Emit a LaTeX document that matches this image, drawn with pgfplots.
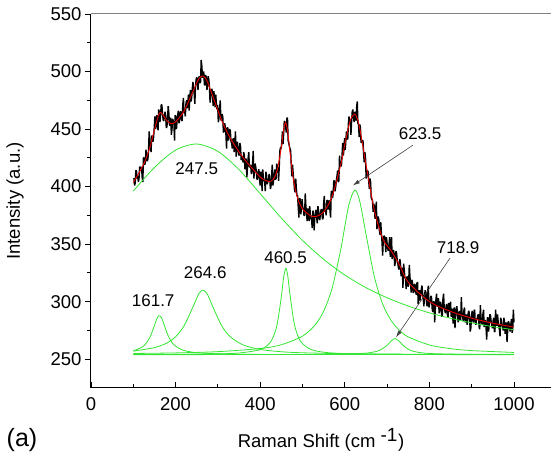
\documentclass[border=0pt]{standalone}
\usepackage{pgfplots}
\pgfplotsset{compat=1.18}
\usetikzlibrary{arrows.meta}
\usepackage{fontspec}
\setmainfont{Liberation Sans}
\definecolor{gline}{RGB}{50,230,50}
\definecolor{rline}{RGB}{235,0,0}
\definecolor{topgray}{RGB}{130,130,130}
\begin{document}
\begin{tikzpicture}
\useasboundingbox (-91pt,-80pt) rectangle (460pt,388pt);
\begin{axis}[
  at={(0,0)}, anchor=south west,
  scale only axis, width=460pt, height=374pt,
  xmin=0, xmax=1087.5, ymin=225, ymax=550,
  axis x line*=bottom, axis y line*=left,
  axis line style={line width=1pt,-},
  xtick={0,200,400,600,800,1000}, minor x tick num=1,
  ytick={250,300,350,400,450,500,550}, minor y tick num=1,
  xtick align=inside, ytick align=outside,
  major tick length=6pt, minor tick length=4pt,
  every tick/.style={black, line width=0.9pt},
  /pgf/number format/assume math mode=true,
  /pgf/number format/1000 sep={},
  scaled ticks=false,
  tick label style={font=\fontsize{18.5}{20}\selectfont},
  xticklabel style={yshift=-6pt},
  label style={font=\fontsize{18.5}{20}\selectfont},
  xlabel={Raman Shift (cm \textsuperscript{\fontsize{19}{20}\selectfont -1})},
  ylabel={Intensity (a.u.)},
  xlabel style={at={(axis description cs:0.5,-0.139)}, anchor=center},
  ylabel style={at={(axis description cs:-0.165,0.5)}, anchor=center},
  clip=false,
]
% raw spectrum
\addplot[black, line width=1.4pt, line join=bevel] coordinates {
(100,407)(101.5,407)(103,401)(104.5,403)(106,414)(107.5,414)(109,407)(110.5,409)(112,404)(113.5,407)(115,417)(116.5,417)(118,416)(119.5,417)(121,408)(122.5,404)(124,425)(125.5,425)(127,419)(128.5,421)(130,432)(131.5,427)(133,422)(134.5,424)(136,431)(137.5,448)(139,439)(140.5,435)(142,430)(143.5,444)(145,444)(146.5,439)(148,443)(149.5,451)(151,461)(152.5,450)(154,454)(155.5,462)(157,453)(158.5,449)(160,467)(161.5,465)(163,456)(164.5,462)(166,471)(167.5,471)(169,464)(170.5,458)(172,457)(173.5,461)(175,465)(176.5,462)(178,451)(179.5,452)(181,459)(182.5,470)(184,464)(185.5,454)(187,453)(188.5,460)(190,445)(191.5,450)(193,459)(194.5,457)(196,455)(197.5,440)(199,462)(200.5,461)
(202,450)(203.5,457)(205,462)(206.5,466)(208,455)(209.5,458)(211,465)(212.5,465)(214,458)(215.5,457)(217,471)(218.5,477)(220,464)(221.5,465)(223,461)(224.5,472)(226,475)(227.5,468)(229,474)(230.5,480)(232,466)(233.5,476)(235,484)(236.5,474)(238,477)(239.5,485)(241,491)(242.5,485)(244,480)(245.5,472)(247,487)(248.5,493)(250,495)(251.5,489)(253,484)(254.5,494)(256,496)(257.5,490)(259,491)(260.5,510)(262,505)(263.5,495)(265,495)(266.5,500)(268,489)(269.5,488)(271,497)(272.5,495)(274,484)(275.5,488)(277,496)(278.5,493)(280,487)(281.5,473)(283,479)(284.5,483)(286,485)(287.5,477)(289,470)(290.5,483)(292,476)(293.5,469)(295,480)(296.5,471)(298,467)(299.5,471)
(301,456)(302.5,459)(304,467)(305.5,475)(307,459)(308.5,457)(310,463)(311.5,461)(313,447)(314.5,448)(316,455)(317.5,452)(319,445)(320.5,433)(322,451)(323.5,451)(325,440)(326.5,443)(328,450)(329.5,448)(331,439)(332.5,438)(334,433)(335.5,441)(337,442)(338.5,430)(340,437)(341.5,448)(343,426)(344.5,432)(346,439)(347.5,434)(349,428)(350.5,427)(352,438)(353.5,435)(355,423)(356.5,426)(358,426)(359.5,421)(361,430)(362.5,427)(364,415)(365.5,424)(367,424)(368.5,408)(370,417)(371.5,425)(373,430)(374.5,417)(376,417)(377.5,419)(379,411)(380.5,412)(382,420)(383.5,431)(385,407)(386.5,413)(388,420)(389.5,417)(391,413)(392.5,406)(394,407)(395.5,413)(397,415)(398.5,406)
(400,401)(401.5,413)(403,410)(404.5,396)(406,415)(407.5,408)(409,405)(410.5,405)(412,396)(413.5,413)(415,410)(416.5,402)(418,404)(419.5,405)(421,411)(422.5,408)(424,398)(425.5,400)(427,409)(428.5,419)(430,401)(431.5,405)(433,411)(434.5,415)(436,406)(437.5,407)(439,420)(440.5,417)(442,416)(443.5,405)(445,417)(446.5,431)(448,434)(449.5,433)(451,438)(452.5,448)(454,437)(455.5,446)(457,457)(458.5,456)(460,453)(461.5,447)(463,459)(464.5,460)(466,440)(467.5,438)(469,435)(470.5,433)(472,431)(473.5,418)(475,409)(476.5,419)(478,411)(479.5,405)(481,398)(482.5,395)(484,407)(485.5,398)(487,392)(488.5,392)(490,382)(491.5,373)(493,390)(494.5,389)(496,376)(497.5,381)(499,389)(500.5,382)
(502,381)(503.5,375)(505,375)(506.5,394)(508,383)(509.5,377)(511,370)(512.5,381)(514,378)(515.5,370)(517,383)(518.5,377)(520,372)(521.5,371)(523,364)(524.5,379)(526,378)(527.5,362)(529,373)(530.5,375)(532,380)(533.5,373)(535,368)(536.5,383)(538,379)(539.5,372)(541,371)(542.5,377)(544,380)(545.5,380)(547,372)(548.5,372)(550,385)(551.5,392)(553,378)(554.5,379)(556,375)(557.5,388)(559,388)(560.5,380)(562,387)(563.5,388)(565,379)(566.5,373)(568,396)(569.5,396)(571,390)(572.5,394)(574,405)(575.5,405)(577,396)(578.5,400)(580,405)(581.5,409)(583,414)(584.5,404)(586,405)(587.5,427)(589,419)(590.5,418)(592,418)(593.5,427)(595,438)(596.5,427)(598,432)(599.5,442)
(601,432)(602.5,440)(604,448)(605.5,442)(607,441)(608.5,455)(610,461)(611.5,457)(613,458)(614.5,445)(616,456)(617.5,465)(619,467)(620.5,461)(622,456)(623.5,464)(625,465)(626.5,457)(628,469)(629.5,474)(631,455)(632.5,454)(634,443)(635.5,454)(637,451)(638.5,438)(640,440)(641.5,440)(643,440)(644.5,428)(646,421)(647.5,430)(649,425)(650.5,407)(652,411)(653.5,414)(655,413)(656.5,405)(658,398)(659.5,407)(661,404)(662.5,390)(664,389)(665.5,388)(667,378)(668.5,385)(670,383)(671.5,372)(673,377)(674.5,387)(676,363)(677.5,368)(679,374)(680.5,371)(682,361)(683.5,358)(685,369)(686.5,360)(688,352)(689.5,340)(691,354)(692.5,357)(694,357)(695.5,351)(697,343)(698.5,356)
(700,351)(701.5,346)(703,344)(704.5,349)(706,356)(707.5,339)(709,344)(710.5,356)(712,337)(713.5,340)(715,345)(716.5,342)(718,331)(719.5,334)(721,344)(722.5,342)(724,336)(725.5,333)(727,329)(728.5,328)(730,337)(731.5,334)(733,322)(734.5,329)(736,329)(737.5,312)(739,333)(740.5,328)(742,321)(743.5,320)(745,311)(746.5,321)(748,322)(749.5,313)(751,316)(752.5,332)(754,322)(755.5,315)(757,308)(758.5,319)(760,317)(761.5,308)(763,308)(764.5,315)(766,315)(767.5,309)(769,306)(770.5,316)(772,317)(773.5,298)(775,307)(776.5,310)(778,301)(779.5,306)(781,311)(782.5,314)(784,307)(785.5,302)(787,296)(788.5,305)(790,310)(791.5,307)(793,300)(794.5,296)(796,309)(797.5,314)(799,295)(800.5,298)
(802,300)(803.5,305)(805,304)(806.5,294)(808,291)(809.5,300)(811,300)(812.5,282)(814,294)(815.5,302)(817,307)(818.5,296)(820,296)(821.5,303)(823,290)(824.5,293)(826,300)(827.5,298)(829,287)(830.5,288)(832,302)(833.5,307)(835,295)(836.5,292)(838,290)(839.5,296)(841,298)(842.5,289)(844,286)(845.5,299)(847,294)(848.5,291)(850,300)(851.5,287)(853,289)(854.5,294)(856,281)(857.5,292)(859,295)(860.5,277)(862,289)(863.5,294)(865,296)(866.5,288)(868,282)(869.5,290)(871,292)(872.5,284)(874,284)(875.5,304)(877,291)(878.5,287)(880,283)(881.5,292)(883,295)(884.5,282)(886,285)(887.5,289)(889,280)(890.5,284)(892,291)(893.5,292)(895,287)(896.5,274)(898,277)(899.5,287)
(901,292)(902.5,284)(904,282)(905.5,292)(907,293)(908.5,281)(910,280)(911.5,285)(913,285)(914.5,288)(916,289)(917.5,278)(919,276)(920.5,297)(922,286)(923.5,282)(925,280)(926.5,289)(928,293)(929.5,278)(931,282)(932.5,284)(934,277)(935.5,267)(937,286)(938.5,286)(940,274)(941.5,281)(943,289)(944.5,288)(946,283)(947.5,279)(949,277)(950.5,283)(952,286)(953.5,274)(955,274)(956.5,293)(958,283)(959.5,279)(961,289)(962.5,283)(964,278)(965.5,276)(967,270)(968.5,286)(970,284)(971.5,279)(973,279)(974.5,275)(976,286)(977.5,283)(979,272)(980.5,280)(982,282)(983.5,265)(985,274)(986.5,283)(988,282)(989.5,277)(991,274)(992.5,280)(994,285)(995.5,273)(997,276)(998.5,293)(1000,282)
};
% broad component 247.5
\addplot[gline, line width=0.8pt, smooth] coordinates {
(100,396.1)(150,416.6)(200,431.7)(250,437.0)(300,430.6)(350,414.7)(400,393.9)(450,372.7)(500,353.3)(550,336.8)(600,323.2)(650,312.2)(700,303.4)(750,296.2)(800,290.3)(850,285.6)(900,281.6)(950,278.3)(1000,275.6)
};
% 161.7
\addplot[gline, line width=0.8pt, smooth] coordinates {
(100,257.2)(120,260.4)(130,263.7)(140,269.6)(150,279.3)(155,284.6)(160,287.8)(165,287.1)(170,283.0)(180,272.5)(190,265.3)(200,261.3)(220,257.6)(250,255.7)(300,254.7)(400,254.2)(500,254.1)(700,254.05)(1000,254.0)
};
% 264.6
\addplot[gline, line width=0.8pt, smooth] coordinates {
(100,257.1)(150,260.1)(180,264.2)(200,269.5)(220,279.0)(240,294.6)(255,307.0)(265,310.0)(275,306.5)(290,293.9)(310,278.5)(330,269.3)(360,262.4)(400,258.5)(450,256.5)(500,255.6)(600,254.8)(700,254.5)(800,254.3)(1000,254.2)
};
% 460.5
\addplot[gline, line width=0.8pt, smooth] coordinates {
(100,254.1)(200,254.3)(300,254.7)(350,255.4)(400,258.3)(420,263.1)(430,268.6)(440,280.2)(450,304.3)(455,320.1)(460.5,329.0)(465,322.8)(470,307.5)(480,281.9)(490,269.4)(500,263.5)(520,258.5)(550,256.1)(600,254.9)(700,254.3)(800,254.1)(1000,254.1)
};
% 623.5
\addplot[gline, line width=0.8pt, smooth] coordinates {
(100,255.0)(200,255.5)(300,256.6)(400,259.3)(450,262.6)(500,270.1)(530,279.9)(550,291.7)(570,311.7)(590,344.5)(600,365.3)(610,384.7)(623.5,397.0)(635,387.9)(650,358.9)(670,321.5)(690,297.5)(710,283.4)(730,274.8)(750,269.4)(800,262.4)(850,259.2)(900,257.5)(1000,255.9)
};
% 718.9
\addplot[gline, line width=0.8pt, smooth] coordinates {
(100,254.0)(500,254.1)(600,254.5)(650,255.3)(680,257.4)(700,262.1)(710,266.0)(718.9,268.0)(730,265.2)(740,261.3)(760,257.1)(800,255.0)(900,254.2)(1000,254.1)
};
% cumulative fit
\addplot[rline, line width=0.9pt, smooth] coordinates {
(100,403.6)(120,416.2)(130,424.2)(140,434.9)(150,449.4)(160,462.5)(165,464.3)(170,462.5)(180,456.9)(190,454.8)(200,456.3)(220,465.7)(240,481.8)(255,493.8)(265,496.1)(275,491.4)(290,476.4)(310,456.6)(330,441.7)(360,425.0)(400,408.4)(420,404.5)(430,406.1)(440,413.8)(450,434.4)(455,448.5)(460,455.7)(465,448.0)(470,431.3)(480,403.0)(490,388.3)(500,380.7)(520,374.3)(530,373.8)(550,378.0)(570,391.4)(590,418.5)(600,436.7)(610,453.6)(616,460.3)(623.5,462.9)(628,460.5)(635,451.4)(650,419.5)(670,379.3)(690,354.5)(710,344.0)(730,331.5)(750,316.9)(800,300.1)(850,291.6)(900,285.7)(950,281.3)(1000,277.9)
};
% annotations
\begin{scope}[font=\fontsize{17}{19}\selectfont]
\node at (axis cs:250,416) {247.5};
\node at (axis cs:147,301) {161.7};
\node at (axis cs:270,325) {264.6};
\node at (axis cs:460,338) {460.5};
\node at (axis cs:778,446) {623.5};
\node at (axis cs:868,347) {718.9};
\end{scope}
\draw[black!75, line width=0.6pt, -{Latex[length=7pt,width=4pt]}] (axis cs:761,436) -- (axis cs:619,401);
\draw[black!75, line width=0.6pt, -{Latex[length=7pt,width=4pt]}] (axis cs:849,338) -- (axis cs:721,269);
\draw[topgray, line width=1pt] (rel axis cs:0,1) -- (rel axis cs:1,1);
\end{axis}
\node[font=\fontsize{25}{28}\selectfont] at (-69pt,-52pt) {(a)};
\end{tikzpicture}
\end{document}
